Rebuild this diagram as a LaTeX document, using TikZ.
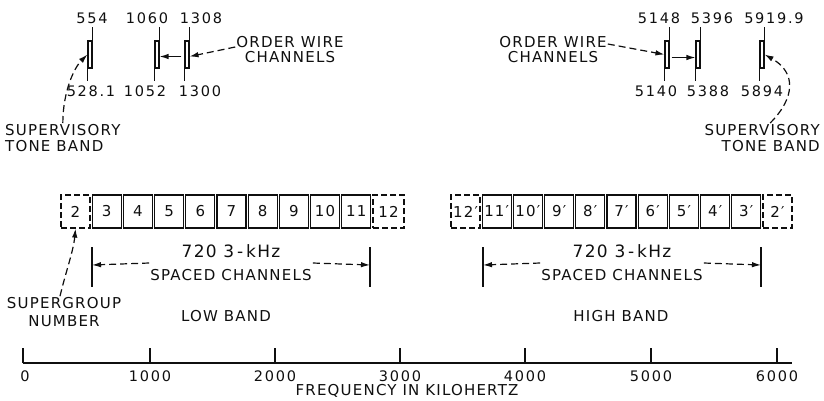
\documentclass[tikz,border=0pt]{standalone}
\usepackage{fontspec}
\setmainfont{DejaVu Sans}[LetterSpace=8]
\newfontfamily\numfont{DejaVu Sans}[LetterSpace=12]
\usetikzlibrary{arrows.meta}

\definecolor{inkcolor}{RGB}{15,15,15}

\tikzset{
  chbox/.style={draw=inkcolor, line width=1.2pt, minimum width=29pt, minimum height=33pt, inner sep=0pt, text=inkcolor, font=\fontsize{15}{16}\selectfont},
  sparebox/.style={chbox, dash pattern=on 6pt off 3pt},
  bandbox/.style={draw=inkcolor, line width=1.1pt, minimum width=4pt, minimum height=27pt, inner sep=0pt},
  stem/.style={draw=inkcolor, line width=1.2pt},
  lbl/.style={inner sep=1pt, text=inkcolor, font=\fontsize{15}{16}\selectfont},
  numlbl/.style={lbl, font=\fontsize{14.5}{16}\numfont},
  dasharrow/.style={draw=inkcolor, line width=1.2pt, dash pattern=on 7pt off 4pt, -{Latex[length=9pt,width=5.5pt]}},
  solidarrow/.style={draw=inkcolor, line width=1.2pt, -{Latex[length=9pt,width=5.5pt]}},
  axisline/.style={draw=inkcolor, line width=1.8pt},
  tickline/.style={draw=inkcolor, line width=1.2pt},
}

\begin{document}
\begin{tikzpicture}[x=1pt, y=-1pt]
\useasboundingbox (0,0) rectangle (824,400);

% pilot and order wire slots, low end
\node[bandbox] (b554) at (90,54.5) {};
\node[bandbox] (b1060) at (157,54.5) {};
\node[bandbox] (b1308) at (187,54.5) {};
\draw[stem] (b554.north east) -- ++(0,-13);
\draw[stem] (b554.south west) -- ++(0,12);
\draw[stem] (b1060.north east) -- ++(0,-13);
\draw[stem] (b1060.south west) -- ++(0,12);
\draw[stem] (b1308.north east) -- ++(0,-13);
\draw[stem] (b1308.south west) -- ++(0,12);
\node[numlbl] (f554) at (92,18) {554};
\node[numlbl] (f528) at (91,91) {528.1};
\node[numlbl] (f1060) at (147,18) {1060};
\node[numlbl] (f1052) at (145,91) {1052};
\node[numlbl] (f1308) at (201,18) {1308};
\node[numlbl] (f1300) at (200,91) {1300};

% pilot and order wire slots, high end
\node[bandbox] (b5148) at (667,54.5) {};
\node[bandbox] (b5396) at (698,54.5) {};
\node[bandbox] (b5919) at (762,54.5) {};
\draw[stem] (b5148.north east) -- ++(0,-13);
\draw[stem] (b5148.south west) -- ++(0,12);
\draw[stem] (b5396.north east) -- ++(0,-13);
\draw[stem] (b5396.south west) -- ++(0,12);
\draw[stem] (b5919.north east) -- ++(0,-13);
\draw[stem] (b5919.south west) -- ++(0,12);
\node[numlbl] (f5148) at (659,18) {5148};
\node[numlbl] (f5140) at (656,91) {5140};
\node[numlbl] (f5396) at (712,18) {5396};
\node[numlbl] (f5388) at (708,91) {5388};
\node[numlbl] (f5919) at (774,18) {5919.9};
\node[numlbl] (f5894) at (762,91) {5894};

% callouts
\node[lbl, align=center, font=\fontsize{15}{15}\selectfont] (owlo) at (290,50) {ORDER WIRE\\CHANNELS};
\node[lbl, align=center, font=\fontsize{15}{15}\selectfont] (owhi) at (553,50) {ORDER WIRE\\CHANNELS};
\draw[dasharrow] ([yshift=3pt]owlo.west) -- ([yshift=-2pt]b1308.east);
\draw[solidarrow, shorten <=3pt] ([yshift=-2pt]b1308.west) -- ([yshift=-2pt]b1060.east);
\draw[dasharrow] ([yshift=6pt]owhi.east) -- (b5148.west);
\draw[solidarrow, shorten <=2pt] ([yshift=-3pt]b5148.east) -- ([yshift=-3pt]b5396.west);

\node[lbl, align=left, anchor=north west] (svlo) at (4,123) {SUPERVISORY\\TONE BAND};
\node[lbl, align=right, anchor=north east] (svhi) at (821,123) {SUPERVISORY\\TONE BAND};
\draw[dasharrow] (svlo.north) .. controls +(0,-30) and +(-14,14) .. (b554.west);
\draw[dasharrow] ([xshift=8pt]svhi.north) .. controls +(25,-25) and +(32,18) .. (b5919.east);

% supergroups, low band
\node[sparebox] (lo2) at (75.5,211.5) {2};
\node[chbox] (lo3) at (106.7,211.5) {3};
\node[chbox] (lo4) at (137.9,211.5) {4};
\node[chbox] (lo5) at (169.1,211.5) {5};
\node[chbox] (lo6) at (200.3,211.5) {6};
\node[chbox] (lo7) at (231.5,211.5) {7};
\node[chbox] (lo8) at (262.7,211.5) {8};
\node[chbox] (lo9) at (293.9,211.5) {9};
\node[chbox] (lo10) at (325.1,211.5) {10};
\node[chbox] (lo11) at (356.3,211.5) {11};
\node[sparebox, minimum width=31pt] (lo12) at (388.5,211.5) {12};

% supergroups, high band
\node[sparebox] (hi12) at (465.5,211.5) {12′};
\node[chbox] (hi11) at (496.7,211.5) {11′};
\node[chbox] (hi10) at (527.9,211.5) {10′};
\node[chbox] (hi9) at (559.1,211.5) {9′};
\node[chbox] (hi8) at (590.3,211.5) {8′};
\node[chbox] (hi7) at (621.5,211.5) {7′};
\node[chbox] (hi6) at (652.7,211.5) {6′};
\node[chbox] (hi5) at (683.9,211.5) {5′};
\node[chbox] (hi4) at (715.1,211.5) {4′};
\node[chbox] (hi3) at (746.3,211.5) {3′};
\node[sparebox] (hi2) at (777.5,211.5) {2′};

% channel spans
\coordinate (lol) at (92,265);
\coordinate (lor) at (370,265);
\coordinate (hil) at (483,265);
\coordinate (hir) at (761,265);
\draw[stem] ([yshift=18pt]lol) -- ([yshift=-22pt]lol);
\draw[stem] ([yshift=18pt]lor) -- ([yshift=-22pt]lor);
\draw[stem] ([yshift=18pt]hil) -- ([yshift=-22pt]hil);
\draw[stem] ([yshift=18pt]hir) -- ([yshift=-22pt]hir);
\node[lbl, align=center, font=\fontsize{15}{23}\selectfont] (lotxt) at (231,263) {{\fontsize{17}{18}\selectfont 720 3\,-\,kHz}\\SPACED CHANNELS};
\node[lbl, align=center, font=\fontsize{15}{23}\selectfont] (hitxt) at (622,263) {{\fontsize{17}{18}\selectfont 720 3\,-\,kHz}\\SPACED CHANNELS};
\draw[dasharrow] (lotxt.west) -- (lol);
\draw[dasharrow] (lotxt.east) -- (lor);
\draw[dasharrow] (hitxt.west) -- (hil);
\draw[dasharrow] (hitxt.east) -- (hir);

\node[lbl, align=center, font=\fontsize{15}{18}\selectfont] (sgnum) at (64,312) {SUPERGROUP\\NUMBER};
\draw[dasharrow] ([xshift=-4pt]sgnum.north) .. controls +(6,-25) and +(-2,22) .. (lo2.south);
\node[lbl] (lowband) at (226,316) {LOW BAND};
\node[lbl] (highband) at (621,316) {HIGH BAND};

% frequency axis
\coordinate (ax0) at (23,363);
\coordinate (ax1) at (150,363);
\coordinate (ax2) at (275,363);
\coordinate (ax3) at (400,363);
\coordinate (ax4) at (525,363);
\coordinate (ax5) at (651,363);
\coordinate (ax6) at (777,363);
\coordinate (axend) at (792,363);
\draw[axisline] (ax0) -- (axend);
\draw[tickline] (ax0) -- ++(0,-15);
\draw[tickline] (ax1) -- ++(0,-15);
\draw[tickline] (ax2) -- ++(0,-15);
\draw[tickline] (ax3) -- ++(0,-15);
\draw[tickline] (ax4) -- ++(0,-15);
\draw[tickline] (ax5) -- ++(0,-15);
\draw[tickline] (ax6) -- ++(0,-15);
\node[numlbl] (t0) at (25,376) {0};
\node[numlbl] (t1) at (150,376) {1000};
\node[numlbl] (t2) at (275,376) {2000};
\node[numlbl] (t3) at (400,376) {3000};
\node[numlbl] (t4) at (525,376) {4000};
\node[numlbl] (t5) at (651,376) {5000};
\node[numlbl] (t6) at (777,376) {6000};
\node[lbl] (freq) at (407,391) {FREQUENCY IN KILOHERTZ};
\end{tikzpicture}
\end{document}
